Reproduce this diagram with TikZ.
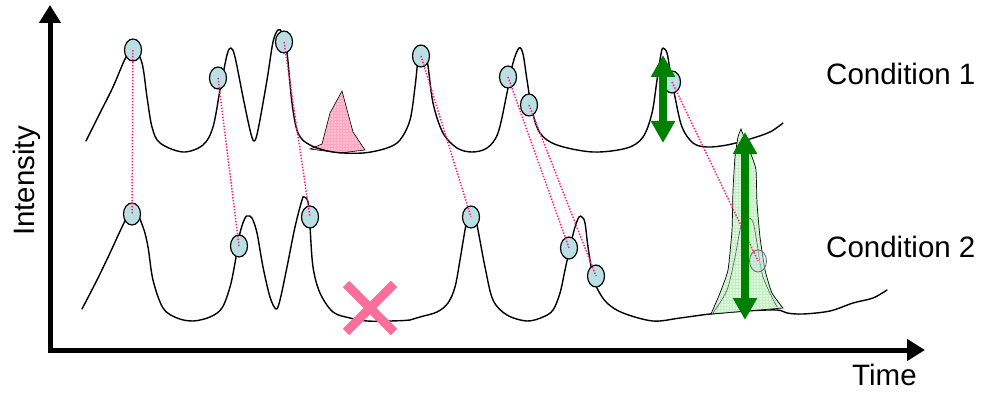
\documentclass[tikz,border=0pt]{standalone}
\usepackage{fontspec}
\setmainfont{Liberation Sans}
\usetikzlibrary{arrows.meta,shapes.geometric,patterns}
\definecolor{blob}{RGB}{187,224,227}
\definecolor{dotpink}{RGB}{255,30,120}
\definecolor{xpink}{RGB}{250,110,155}
\definecolor{tripink}{RGB}{255,190,210}
\definecolor{trigrid}{RGB}{252,168,195}
\definecolor{lgreen}{RGB}{215,247,215}
\definecolor{ggrid}{RGB}{196,238,196}
\definecolor{dgreen}{RGB}{0,128,0}
\begin{document}
\begin{tikzpicture}[x=1pt,y=-1pt,
  curve/.style={line width=1.4pt, black, line join=round, line cap=round},
  peakpt/.style={ellipse, draw=black, line width=1.2pt, fill=blob, minimum width=17pt, minimum height=22pt, inner sep=0pt},
  link/.style={dotpink, line width=1.5pt, dash pattern=on 1.4pt off 1.6pt},
  axisline/.style={line width=5pt, line join=miter, {Triangle[length=18pt,width=21pt]}-{Triangle[length=18pt,width=21pt]}},
  dbl/.style={dgreen, line width=7.5pt, {Triangle[length=22pt,width=23pt]}-{Triangle[length=22pt,width=23pt]}},
  lbl/.style={font=\fontsize{29.5}{34}\selectfont, inner sep=0pt},
  xmark/.style={xpink, line width=9pt}]
\useasboundingbox (0,0) rectangle (982,393);

% axes
\coordinate (ytop) at (50,5);
\coordinate (O) at (50,350);
\coordinate (xend) at (925,350);
\draw[axisline] (ytop) -- (O) -- (xend);

% labels
\node[lbl, rotate=90, anchor=base] (ylab) at (34,181) {Intensity};
\node[lbl, anchor=base west] (xlab) at (852,385) {Time};
\node[lbl, anchor=base west] (c1) at (826,85) {Condition 1};
\node[lbl, anchor=base west] (c2) at (826,257) {Condition 2};

% pink triangle (peak only in condition 1)
\path[fill=tripink]
  (310,149) -- (322,144) -- (330,113) -- (342,91) -- (353,132) -- (365,150) -- (340,153) -- cycle;
\path[pattern=grid, pattern color=trigrid]
  (310,149) -- (322,144) -- (330,113) -- (342,91) -- (353,132) -- (365,150) -- (340,153) -- cycle;
\draw[draw=black, line width=0.6pt]
  (310,149) -- (322,144) -- (330,113) -- (342,91) -- (353,132) -- (365,150) -- (340,153) -- cycle;

% condition 1 trace
\draw[curve] plot[smooth, tension=0.55] coordinates {
 (86,141) (100,113) (113,87) (125,59) (133,47) (142,63) (147,97) (152,127) (160,143)
 (183,152) (203,145) (213,127) (220,90) (227,55) (231,48) (235,57) (243,97) (250,130)
 (254,141) (258,130) (267,80) (273,42) (278,30) (282,33) (287,53) (292,103) (298,133)
 (310,145) (333,152) (363,153) (387,148) (400,140) (410,120) (415,87) (418,60) (421,50)
 (427,60) (433,103) (443,133) (457,148) (472,152) (487,148) (498,133) (507,93) (513,63)
 (519,48) (523,54) (527,80) (532,110) (540,133) (557,145) (593,152) (627,148) (643,137)
 (652,113) (657,80) (661,54) (663,48) (667,53) (670,70) (675,97) (682,127) (693,143)
 (707,147) (727,145) (750,139) (770,132) (783,123)};

% condition 2 trace
\draw[curve] plot[smooth, tension=0.55] coordinates {
 (82,309) (97,280) (110,253) (123,225) (133,207) (143,227) (148,247) (153,280) (163,308)
 (177,318) (193,321) (210,317) (222,308) (230,287) (235,263) (240,233) (245,218) (248,216)
 (252,218) (257,233) (263,267) (270,297) (276,309) (280,300) (287,267) (295,227) (302,200)
 (304,197) (308,202) (310,227) (313,267) (320,293) (333,312) (350,318) (367,321) (390,321)
 (410,320) (420,317) (437,312) (448,303) (455,287) (460,260) (465,230) (468,217) (471,212)
 (475,217) (478,230) (485,267) (493,300) (507,315) (527,321) (543,317) (553,310) (560,293)
 (565,270) (570,247) (575,227) (579,217) (582,217) (585,223) (588,247) (593,277) (598,290)
 (607,303) (623,313) (653,321) (680,318) (710,314) (745,311) (777,310) (787,313) (803,314)
 (830,311) (853,303) (873,298) (887,290)};

% green peak (grown in condition 2)
\path[fill=lgreen, fill opacity=0.85]
  plot[smooth, tension=0.3] coordinates {(711,314) (720,293) (728,270) (732,230) (733,190) (735,157) (738,137) (741,129)}
  -- plot[smooth, tension=0.3] coordinates {(741,129) (744,137) (752,157) (756,170) (757,203) (760,237) (765,270) (772,293) (783,308)}
  -- cycle;
\path[pattern=grid, pattern color=ggrid]
  plot[smooth, tension=0.3] coordinates {(711,314) (720,293) (728,270) (732,230) (733,190) (735,157) (738,137) (741,129)}
  -- plot[smooth, tension=0.3] coordinates {(741,129) (744,137) (752,157) (756,170) (757,203) (760,237) (765,270) (772,293) (783,308)}
  -- cycle;
\draw[draw=black, line width=0.7pt]
  plot[smooth, tension=0.3] coordinates {(711,314) (720,293) (728,270) (732,230) (733,190) (735,157) (738,137) (741,129)}
  -- plot[smooth, tension=0.3] coordinates {(741,129) (744,137) (752,157) (756,170) (757,203) (760,237) (765,270) (772,293) (783,308)}
  -- cycle;
\draw[gray!70!black, line width=0.6pt] plot[smooth, tension=0.5] coordinates {
 (713,313) (727,290) (735,257) (741,226) (747,218) (753,222) (757,243) (763,277) (777,307)};

% matched peaks
\node[peakpt] (t1) at (133,50) {};
\node[peakpt] (t2) at (218,78) {};
\node[peakpt] (t3) at (284,42) {};
\node[peakpt] (t4) at (421,56) {};
\node[peakpt] (t5) at (508,77) {};
\node[peakpt] (t6) at (529,105) {};
\node[peakpt] (t7) at (672,82) {};
\node[peakpt] (b1) at (132,214) {};
\node[peakpt] (b2) at (239,246) {};
\node[peakpt] (b3) at (310,217) {};
\node[peakpt] (b4) at (471,217) {};
\node[peakpt] (b5) at (569,248) {};
\node[peakpt] (b6) at (596,276) {};
\node[peakpt, fill opacity=0.45, draw=black!60, line width=0.8pt] (b7) at (758,261) {};

\draw[link] (t1.center) -- (b1.center);
\draw[link] (t2.center) -- (b2.center);
\draw[link] (t3.center) -- (b3.center);
\draw[link] (t4.center) -- (b4.center);
\draw[link] (t5.center) -- (b5.center);
\draw[link] (t6.center) -- (b6.center);
\draw[link] (t7.center) -- (b7.center);

% intensity change arrows
\coordinate (a1top) at (663,55);
\coordinate (a1bot) at (663,143);
\coordinate (a2top) at (745,132);
\coordinate (a2bot) at (745,320);
\draw[dbl] (a1top) -- (a1bot);
\draw[dbl] (a2top) -- (a2bot);

% missing peak
\coordinate (xa) at (346,284);
\coordinate (xb) at (394,332);
\coordinate (xc) at (394,284);
\coordinate (xd) at (346,332);
\draw[xmark] (xa) -- (xb);
\draw[xmark] (xc) -- (xd);
\end{tikzpicture}
\end{document}
